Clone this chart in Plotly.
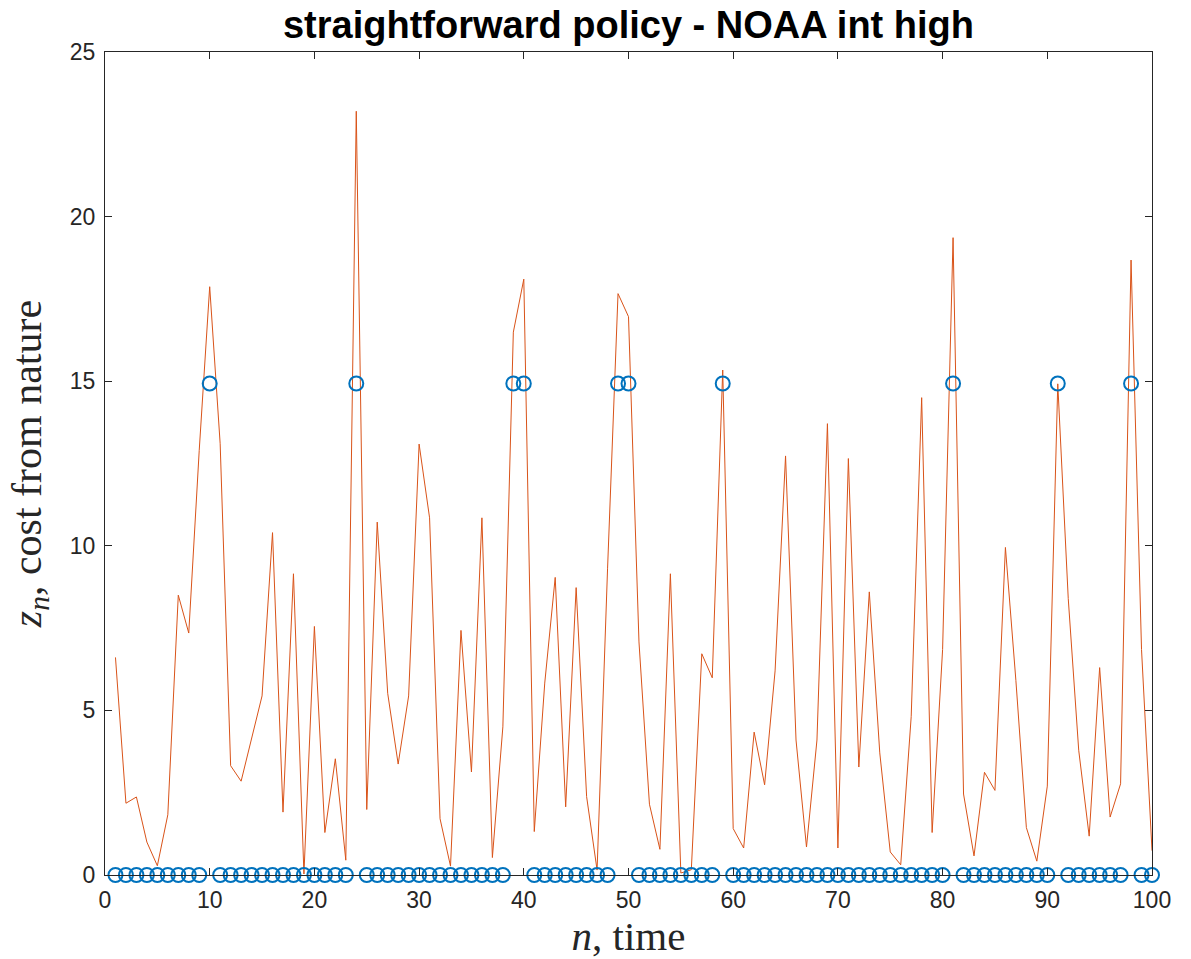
import plotly.graph_objects as go

# time steps
n = list(range(1, 101))

# cost from nature, z_n
z_cost = [
    6.61, 2.18, 2.37, 1.00, 0.28, 1.83, 8.50, 7.35, 12.9, 17.87,
    13.1, 3.32, 2.85, 4.10, 5.44, 10.40, 1.91, 9.15, 0.03, 7.55,
    1.29, 3.53, 0.45, 23.2, 1.99, 10.72, 5.52, 3.37, 5.44, 13.09,
    10.85, 1.71, 0.27, 7.43, 3.13, 10.85, 0.53, 4.50, 16.49, 18.10,
    1.32, 5.83, 9.04, 2.07, 8.73, 2.38, 0.15, 9.3, 17.66, 16.96,
    7.08, 2.15, 0.78, 9.15, 0.06, 0.16, 6.72, 5.99, 15.34, 1.41,
    0.82, 4.34, 2.74, 6.2, 12.73, 4.10, 0.85, 4.10, 13.71, 0.82,
    12.65, 3.28, 8.60, 3.71, 0.70, 0.31, 4.81, 14.50, 1.29, 6.85,
    19.36, 2.46, 0.58, 3.12, 2.57, 9.95, 5.91, 1.44, 0.42, 2.70,
    14.92, 8.4, 3.79, 1.18, 6.30, 1.76, 2.77, 18.68, 6.85, 0.74,
]

# policy action level at each step (0 or the action height)
action_level = 14.93
action_steps = [10, 24, 39, 40, 49, 50, 59, 81, 91, 98]
actions = [action_level if k in action_steps else 0 for k in n]

x_ticks = [0, 10, 20, 30, 40, 50, 60, 70, 80, 90, 100]
y_ticks = [0, 5, 10, 15, 20, 25]

axis_color = "#262626"
sans = "Liberation Sans, Arial, sans-serif"
serif = "Liberation Serif, DejaVu Serif, serif"

fig = go.Figure()
fig.add_trace(go.Scatter(
    x=n, y=z_cost, mode="lines",
    line=dict(color="#D95319", width=1),
    cliponaxis=False, showlegend=False,
))
fig.add_trace(go.Scatter(
    x=n, y=actions, mode="markers",
    marker=dict(symbol="circle-open", size=14, color="#0072BD",
                line=dict(width=2, color="#0072BD")),
    cliponaxis=False, showlegend=False,
))

axis_common = dict(
    showline=True, linecolor=axis_color, linewidth=1,
    mirror="ticks", ticks="inside", ticklen=7, tickcolor=axis_color,
    showgrid=False, zeroline=False, ticklabelstandoff=4, automargin=False,
    tickfont=dict(family=sans, size=23, color=axis_color),
)

fig.update_layout(
    width=1191, height=959,
    margin=dict(l=105, r=39, t=52, b=84),
    paper_bgcolor="white", plot_bgcolor="white",
    title=dict(
        text="<b>straightforward policy - NOAA int high</b>",
        x=(105 + 1152) / 2 / 1191, xanchor="center",
        y=1 - 25 / 959, yanchor="middle",
        font=dict(family=sans, size=38, color="black"),
    ),
    xaxis=dict(
        range=[0, 100], tickvals=x_ticks,
        title=dict(text="<i>n</i>, time",
                   font=dict(family=serif, size=41, color=axis_color)),
        **axis_common,
    ),
    yaxis=dict(
        range=[0, 25], tickvals=y_ticks,
        title=dict(text="<i>z<sub>n</sub></i>, cost from nature",
                   font=dict(family=serif, size=42, color=axis_color)),
        **axis_common,
    ),
)

fig.write_html("out.html")
